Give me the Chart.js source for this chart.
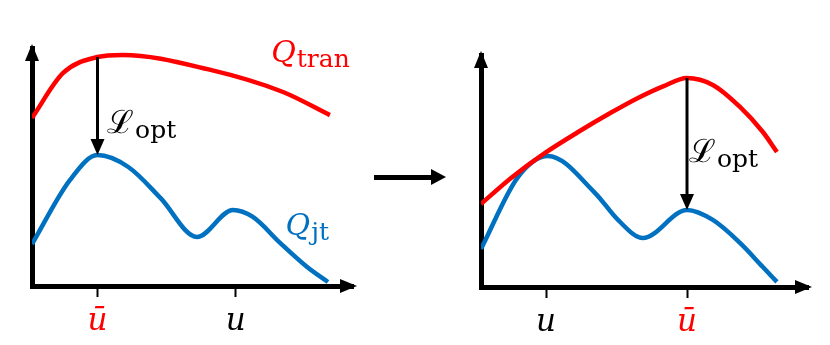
<!DOCTYPE html>
<html>
<head>
<meta charset="utf-8">
<script src="https://cdn.jsdelivr.net/npm/chart.js@4.4.1/dist/chart.umd.min.js"></script>
<style>
body { margin: 0; background: #fff; }
#wrap { position: relative; width: 830px; height: 345px; overflow: hidden; }
.box { position: absolute; top: 0; width: 415px; height: 345px; }
#shaft { position: absolute; left: 374px; top: 175px; width: 60px; height: 5px; background: #000; }
#head { position: absolute; left: 431px; top: 169px; width: 0; height: 0;
  border-left: 15px solid #000; border-top: 8px solid transparent; border-bottom: 8px solid transparent; }
</style>
</head>
<body>
<div id="wrap">
  <div class="box" style="left:0"><canvas id="left" width="415" height="345"></canvas></div>
  <div class="box" style="left:415px"><canvas id="right" width="415" height="345"></canvas></div>
  <div id="shaft"></div><div id="head"></div>
</div>
<script>
// 左图：Q_tran 和 Q_jt
var leftTranX = [0, 9.7, 20.4, 28.3, 55.0, 78.2, 92.8];
var leftTranY = [70.6, 89.5, 96.2, 97.1, 91.0, 81.5, 71.8];
var leftJtX = [0, 11.8, 20.4, 30.0, 40.0, 51.4, 62.6, 68.8, 77.3, 85.7, 92.2];
var leftJtY = [17.6, 44.5, 55.0, 50.0, 37.0, 20.6, 31.9, 29.0, 18.1, 8.0, 1.7];
var leftTicks = [20.4, 63.5];
var leftTickLabels = ['ū', 'u'];

// 右图
var rightTranX = [0, 9.2, 19.6, 29.7, 39.8, 48.0, 55.7, 63.0, 70.9, 79.2, 86.2, 90.5];
var rightTranY = [35.8, 47.0, 57.8, 66.8, 75.2, 81.5, 86.5, 90.1, 87.1, 77.6, 66.8, 58.2];
var rightJtX = [0, 11.3, 20.5, 34.9, 41.9, 49.5, 63.0, 70.9, 79.2, 86.2, 90.5];
var rightJtY = [16.4, 47.4, 56.5, 40.5, 28.9, 21.1, 33.2, 28.9, 19.0, 8.6, 2.2];
var rightTicks = [19.9, 63.0];
var rightTickLabels = ['u', 'ū'];

var RED = '#ff0000';
var BLUE = '#0070c0';
var SERIF = '"DejaVu Serif", serif';

function pts(xs, ys) {
    return xs.map(function(x, i) { return {x: x, y: ys[i]}; });
}
function valueAt(xs, ys, x) {
    return ys[xs.indexOf(x)];
}

// 画带下标的文字
function subText(ctx, x, y, main, sub, color, mainFont, subFont) {
    ctx.fillStyle = color;
    ctx.textBaseline = 'alphabetic';
    ctx.textAlign = 'left';
    ctx.font = mainFont;
    ctx.fillText(main, x, y);
    var w = ctx.measureText(main).width;
    ctx.font = subFont;
    ctx.fillText(sub, x + w + 1, y + 5);
}

var sketchPlugin = {
    id: 'sketch',
    afterDraw: function(chart, args, opts) {
        var ctx = chart.ctx;
        var a = chart.chartArea;
        var xs = chart.scales.x, ys = chart.scales.y;
        ctx.save();
        ctx.fillStyle = '#000';
        // 坐标轴箭头
        ctx.beginPath();
        ctx.moveTo(a.left, a.top - 4);
        ctx.lineTo(a.left - 7, a.top + 13);
        ctx.lineTo(a.left + 7, a.top + 13);
        ctx.closePath();
        ctx.fill();
        ctx.beginPath();
        ctx.moveTo(a.right + 4, a.bottom);
        ctx.lineTo(a.right - 13, a.bottom - 7);
        ctx.lineTo(a.right - 13, a.bottom + 7);
        ctx.closePath();
        ctx.fill();
        // L_opt 箭头
        var px = xs.getPixelForValue(opts.arrowX);
        var y1 = ys.getPixelForValue(opts.arrowTop);
        var y2 = ys.getPixelForValue(opts.arrowBottom);
        ctx.strokeStyle = '#000';
        ctx.lineWidth = 3;
        ctx.beginPath();
        ctx.moveTo(px, y1);
        ctx.lineTo(px, y2 - 10);
        ctx.stroke();
        ctx.beginPath();
        ctx.moveTo(px, y2);
        ctx.lineTo(px - 7, y2 - 16);
        ctx.lineTo(px + 7, y2 - 16);
        ctx.closePath();
        ctx.fill();
        // 文字
        opts.labels.forEach(function(l) {
            subText(ctx, xs.getPixelForValue(l.x), ys.getPixelForValue(l.y), l.main, l.sub, l.color,
                l.mainFont, '25px ' + SERIF);
        });
        ctx.restore();
    }
};

function makeChart(id, tranX, tranY, jtX, jtY, ticks, tickLabels, ubar, pad, labels) {
    var c = document.getElementById(id).getContext('2d');
    return new Chart(c, {
        type: 'line',
        data: {
            datasets: [
                {data: pts(tranX, tranY), borderColor: RED, borderWidth: 4.5, pointRadius: 0,
                 cubicInterpolationMode: 'monotone', fill: false},
                {data: pts(jtX, jtY), borderColor: BLUE, borderWidth: 4.5, pointRadius: 0,
                 cubicInterpolationMode: 'monotone', fill: false}
            ]
        },
        options: {
            responsive: false,
            animation: false,
            layout: {padding: pad},
            plugins: {
                legend: {display: false},
                tooltip: {enabled: false},
                sketch: {
                    arrowX: ubar,
                    arrowTop: valueAt(tranX, tranY, ubar),
                    arrowBottom: valueAt(jtX, jtY, ubar),
                    labels: labels
                }
            },
            scales: {
                x: {
                    type: 'linear', min: 0, max: 100,
                    afterBuildTicks: function(s) { s.ticks = ticks.map(function(v) { return {value: v}; }); },
                    afterFit: function(s) { s.height = 345 - pad.bottom - (pad.top + pad.plot); },
                    border: {display: true, color: '#000', width: 5},
                    grid: {display: true, drawOnChartArea: false, drawTicks: true, tickLength: 11,
                           tickColor: '#000', tickWidth: 2},
                    ticks: {
                        padding: 6,
                        maxRotation: 0,
                        autoSkip: false,
                        font: {family: SERIF, size: 31, style: 'italic'},
                        color: function(ctx) { return ctx.index === tickLabels.indexOf('ū') ? RED : '#000'; },
                        callback: function(v, i) { return tickLabels[i]; }
                    }
                },
                y: {
                    type: 'linear', min: 0, max: 100,
                    afterFit: function(s) { s.width = 0; },
                    border: {display: true, color: '#000', width: 5},
                    grid: {display: false},
                    ticks: {display: false}
                }
            }
        },
        plugins: [sketchPlugin]
    });
}

makeChart('left', leftTranX, leftTranY, leftJtX, leftJtY, leftTicks, leftTickLabels, 20.4,
    {left: 32, right: 62, top: 48, bottom: 0, plot: 238},
    [
        {x: 74.5, y: 94.1, main: 'Q', sub: 'tran', color: RED, mainFont: 'italic 30px ' + SERIF},
        {x: 79.0, y: 21.5, main: 'Q', sub: 'jt', color: BLUE, mainFont: 'italic 30px ' + SERIF},
        {x: 23.4, y: 64.3, main: 'ℒ', sub: 'opt', color: '#000', mainFont: '32px ' + SERIF}
    ]);

makeChart('right', rightTranX, rightTranY, rightJtX, rightJtY, rightTicks, rightTickLabels, 63.0,
    {left: 66, right: 22, top: 55, bottom: 0, plot: 232},
    [
        {x: 63.6, y: 53.9, main: 'ℒ', sub: 'opt', color: '#000', mainFont: '32px ' + SERIF}
    ]);
</script>
</body>
</html>
